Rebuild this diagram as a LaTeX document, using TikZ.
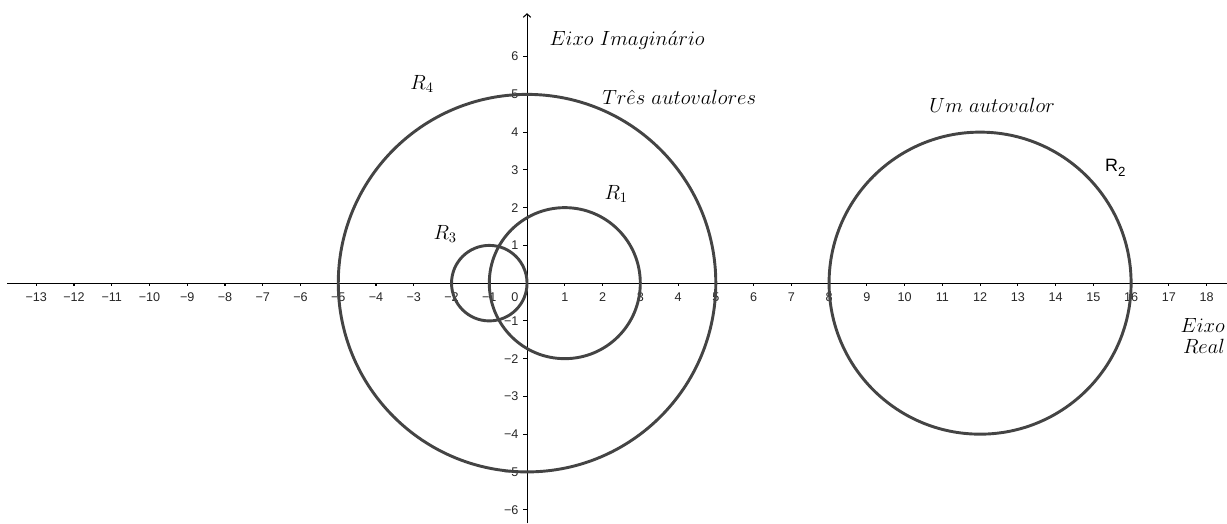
\RequirePackage{fix-cm}
\documentclass[tikz,border=0pt]{standalone}
\usepackage{fontspec}
\setsansfont{Liberation Sans}
\usepackage{tikz}
\usetikzlibrary{arrows.meta}

\definecolor{circgray}{RGB}{68,68,68}
\newcommand{\signnum}[1]{\ifnum#1<0 −\number\numexpr-#1\relax\else#1\fi}

\begin{document}
\begin{tikzpicture}[
    circ/.style={draw=circgray, line width=2.2pt},
    axis/.style={line width=0.8pt, black},
    numlab/.style={font=\sffamily\fontsize{9.5}{11}\selectfont, inner sep=0pt, text=black!85},
    txt/.style={font=\fontsize{15.5}{16.5}\selectfont, inner sep=0pt},
    axisarrow/.style={-{Straight Barb[length=0.9mm, width=2mm]}}
]
\useasboundingbox (-13.96,-6.36) rectangle (18.54,7.50);

% Axes
\draw[axis] (-13.77,0) -- (18.54,0);
\draw[axis, axisarrow] (0,-6.36) -- (0,7.15);

% Ticks and numbers
\foreach \x in {-13,...,-1,1,2,...,18} {
    \draw[axis] (\x,0) -- (\x,-0.08);
    \node[numlab] at (\x,-0.38) {\signnum{\x}};
}
\node[numlab] (orig) at (-0.32,-0.38) {0};
\foreach \y in {-6,...,-1,1,2,...,6} {
    \draw[axis] (0,\y) -- (-0.1,\y);
    \node[numlab, anchor=east] at (-0.22,\y) {\signnum{\y}};
}

% Circles
\draw[circ] (0,0) circle (5);
\draw[circ] (1,0) circle (2);
\draw[circ] (-1,0) circle (1);
\draw[circ] (12,0) circle (4);

% Labels
\node[txt] (imag) at (2.65,6.44) {$Eixo\ Imagin\acute{a}rio$};
\node[txt] (tres) at (4.03,4.93) {$Tr\hat{e}s\ autovalores$};
\node[txt] (um) at (12.32,4.72) {$Um\ autovalor$};
\node[txt] (r4lab) at (-2.78,5.27) {$R_4$};
\node[txt] (r1lab) at (2.36,2.36) {$R_1$};
\node[txt] (r3lab) at (-2.17,1.30) {$R_3$};
\node[font=\sffamily\fontsize{13.5}{16}\selectfont, inner sep=0pt] (r2lab) at (15.58,3.05) {R\raisebox{-3.8pt}{\fontsize{10}{12}\selectfont 2}};
\node[txt, align=right, anchor=east] (real) at (18.49,-1.40) {$Eixo$\\$Real$};

\end{tikzpicture}
\end{document}
